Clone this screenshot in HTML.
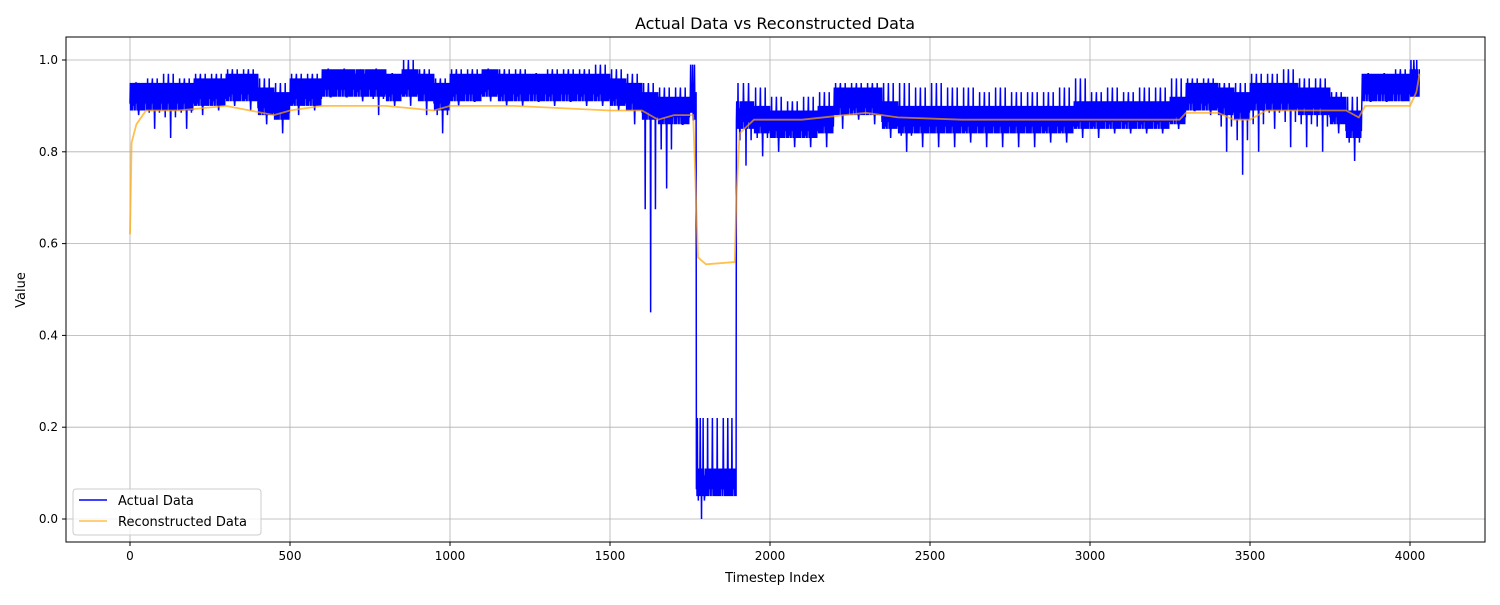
<!DOCTYPE html>
<html><head><meta charset="utf-8"><style>
body{margin:0;background:#fff;}
svg text{font-family:"DejaVu Sans","Liberation Sans",sans-serif;fill:#000;}
</style></head><body>
<svg id="chart" width="1500" height="600" xmlns="http://www.w3.org/2000/svg">
<rect width="1500" height="600" fill="#fff"/>
<text x="775" y="29" font-size="16" text-anchor="middle">Actual Data vs Reconstructed Data</text>
<g id="grid"></g>
<g id="plot"></g>
<rect x="66" y="37" width="1419" height="505" fill="none" stroke="#000" stroke-width="1"/>
<g id="ticks"></g>
<text x="775" y="582" font-size="13" text-anchor="middle">Timestep Index</text>
<text transform="translate(25,290) rotate(-90)" font-size="13" text-anchor="middle">Value</text>
<g>
<rect x="73" y="489" width="188" height="46" rx="3" fill="#fff" fill-opacity="0.8" stroke="#ccc"/>
<line x1="79" y1="500" x2="107" y2="500" stroke="#0000ff" stroke-width="1.5"/>
<text x="118" y="505" font-size="13">Actual Data</text>
<line x1="79" y1="521" x2="107" y2="521" stroke="#ffa500" stroke-opacity="0.7" stroke-width="1.5"/>
<text x="118" y="526" font-size="13">Reconstructed Data</text>
</g>
</svg>
<script>
const binStart=[0,50,100,150,200,250,300,350,400,450,500,550,600,650,700,750,800,850,900,950,1000,1050,1100,1150,1200,1250,1300,1350,1400,1450,1500,1550,1600,1650,1700,1750,1770,1800,1850,1895,1950,2000,2050,2100,2150,2200,2250,2300,2350,2400,2450,2500,2550,2600,2650,2700,2750,2800,2850,2900,2950,3000,3050,3100,3150,3200,3250,3300,3350,3400,3450,3500,3550,3600,3650,3700,3750,3800,3850,3900,3950,4000,4030];
const actualHi=[.95,.96,.97,.96,.97,.97,.98,.98,.96,.95,.97,.97,.98,.98,.97,.98,.97,1.0,.98,.96,.98,.98,.98,.98,.98,.97,.98,.98,.98,.99,.98,.97,.95,.94,.94,.99,.22,.22,.22,.95,.94,.92,.91,.92,.93,.95,.95,.95,.95,.95,.94,.95,.94,.94,.93,.94,.93,.93,.93,.94,.96,.93,.94,.93,.94,.94,.96,.96,.96,.95,.95,.97,.97,.98,.96,.96,.93,.92,.97,.97,.98,1.0];
const actualLo=[.88,.85,.83,.85,.88,.89,.90,.89,.86,.84,.88,.89,.92,.92,.91,.88,.90,.90,.88,.84,.90,.91,.91,.90,.90,.91,.90,.91,.90,.90,.89,.86,.45,.72,.86,.87,0.0,.07,.07,.77,.79,.80,.81,.81,.81,.85,.87,.86,.83,.80,.81,.81,.81,.82,.81,.81,.81,.81,.82,.82,.83,.83,.84,.84,.84,.84,.85,.89,.88,.80,.75,.80,.85,.81,.81,.80,.84,.78,.91,.91,.92,.92];
const actualCore=[.92,.92,.92,.92,.93,.93,.94,.94,.91,.90,.93,.93,.95,.95,.95,.95,.94,.95,.94,.92,.94,.94,.95,.94,.94,.94,.94,.94,.94,.94,.93,.92,.90,.89,.89,.90,.08,.08,.08,.88,.87,.86,.86,.86,.87,.91,.91,.91,.88,.87,.87,.87,.87,.87,.87,.87,.87,.87,.87,.87,.88,.88,.88,.88,.88,.88,.89,.92,.92,.91,.90,.92,.92,.92,.91,.91,.89,.86,.94,.94,.94,.95];
const reconT=[0,5,20,50,150,300,450,500,600,800,950,1000,1200,1500,1600,1650,1700,1760,1775,1800,1890,1895,1905,1950,2100,2300,2400,2600,3000,3280,3300,3400,3450,3500,3550,3800,3840,3860,4000,4020,4030];
const reconV=[.62,.82,.86,.89,.89,.90,.88,.89,.90,.90,.89,.90,.90,.89,.89,.87,.88,.88,.57,.555,.56,.70,.84,.87,.87,.885,.875,.87,.87,.87,.885,.885,.87,.87,.89,.89,.875,.90,.90,.93,.97];
const xTicks=[0,500,1000,1500,2000,2500,3000,3500,4000];
const yTicks=[0.0,0.2,0.4,0.6,0.8,1.0];
const X=t=>130+t*0.32, Y=v=>519-v*459;
const NS="http://www.w3.org/2000/svg";
const grid=document.getElementById('grid'),ticks=document.getElementById('ticks'),plot=document.getElementById('plot');
function mk(tag,attrs,parent){const e=document.createElementNS(NS,tag);for(const k in attrs)e.setAttribute(k,attrs[k]);parent.appendChild(e);return e;}
xTicks.forEach(t=>{
 const g=mk('line',{x1:X(t),x2:X(t),y1:37,y2:542,stroke:'#b0b0b0','stroke-width':0.8},grid);
 
 
 mk('line',{x1:X(t),x2:X(t),y1:542,y2:546,stroke:'#000'},ticks);
 const l=mk('text',{x:X(t),y:560,'font-size':12,'text-anchor':'middle'},ticks);l.textContent=t;
 
 
});
yTicks.forEach(v=>{
 const g=mk('line',{x1:66,x2:1485,y1:Y(v),y2:Y(v),stroke:'#b0b0b0','stroke-width':0.8},grid);
 
 
 mk('line',{x1:62,x2:66,y1:Y(v),y2:Y(v),stroke:'#000'},ticks);
 const l=mk('text',{x:58,y:Y(v)+4,'font-size':12,'text-anchor':'end'},ticks);l.textContent=v.toFixed(1);
 
 
});
// actual: dense oscillation around core value, with spikes to bin hi / lo
let pts=[];
for(let i=0;i<actualHi.length;i++){
 const a=binStart[i],b=binStart[i+1],n=Math.max(4,Math.round(b-a));
 const c=actualCore[i];
 const spikesLo=[Math.floor(n*0.2),Math.floor(n*0.55),Math.floor(n*0.85)];
 const spikesHi=[Math.floor(n*0.1),Math.floor(n*0.4),Math.floor(n*0.7)];
 for(let k=0;k<n;k++){
  const t=a+(b-a)*k/n;
  let v;
  if(k===spikesLo[1]) v=actualLo[i];
  else if(spikesLo.includes(k)) v=(actualLo[i]+c)/2;
  else if(spikesHi.includes(k)) v=actualHi[i];
  else v=c+((k%2)?0.03:-0.03)*((k%3)?1:0.5);
  pts.push(X(t).toFixed(2)+','+Y(v).toFixed(1));
 }
}
const act=mk('polyline',{points:pts.join(' '),fill:'none',stroke:'#0000ff','stroke-width':1.5},plot);


const rp=reconT.map((t,i)=>X(t).toFixed(1)+','+Y(reconV[i]).toFixed(1)).join(' ');
const rec=mk('polyline',{points:rp,fill:'none',stroke:'#ffa500','stroke-opacity':0.7,'stroke-width':1.8},plot);


</script>
</body></html>
